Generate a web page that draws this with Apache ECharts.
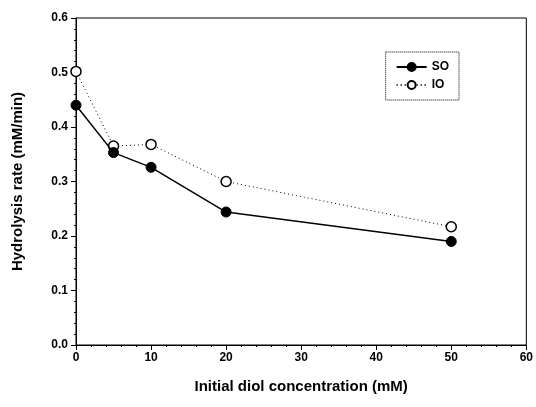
<!DOCTYPE html>
<html>
<head>
<meta charset="utf-8">
<script src="https://cdn.jsdelivr.net/npm/echarts@6/dist/echarts.min.js"></script>
<style>html,body{margin:0;padding:0;background:#fff}#c{width:536px;height:407px}</style>
</head>
<body>
<div id="c"></div>
<script>
var concentrations = [0, 5, 10, 20, 50];
var soRates = [0.440, 0.353, 0.326, 0.244, 0.190];
var ioRates = [0.502, 0.365, 0.368, 0.300, 0.217];
var xTitle = 'Initial diol concentration (mM)';
var yTitle = 'Hydrolysis rate (mM/min)';

function pairs(xs, ys) { return xs.map(function (x, i) { return [x, ys[i]]; }); }

var font = 'Liberation Sans, Arial, sans-serif';
var chart = echarts.init(document.getElementById('c'), null, {renderer: 'canvas'});
chart.setOption({
  animation: false,
  backgroundColor: '#fff',
  grid: {left: 76, right: 8, top: 18, bottom: 62, show: true, borderColor: '#000', borderWidth: 1},
  legend: {
    right: 77, top: 52, orient: 'vertical', itemWidth: 30, itemHeight: 10, itemGap: 6,
    padding: [9, 10, 9, 10],
    borderColor: '#000', borderWidth: 1, borderType: 'dotted', backgroundColor: '#fff',
    textStyle: {fontFamily: font, fontSize: 12, fontWeight: 'bold', color: '#000'},
    data: ['SO', 'IO']
  },
  xAxis: {
    type: 'value', min: 0, max: 60, interval: 10,
    name: xTitle, nameLocation: 'middle', nameGap: 34,
    nameTextStyle: {fontFamily: font, fontSize: 15, fontWeight: 'bold', color: '#000'},
    axisLine: {lineStyle: {color: '#000', width: 1}},
    axisTick: {inside: false, length: 5, lineStyle: {color: '#000'}},
    minorTick: {show: true, splitNumber: 5, length: 2, lineStyle: {color: '#000'}},
    axisLabel: {fontFamily: font, fontSize: 12, fontWeight: 'bold', color: '#000', margin: 7},
    splitLine: {show: false}
  },
  yAxis: {
    type: 'value', min: 0, max: 0.6, interval: 0.1,
    name: yTitle, nameLocation: 'middle', nameGap: 51,
    nameTextStyle: {fontFamily: font, fontSize: 15, fontWeight: 'bold', color: '#000'},
    axisLine: {lineStyle: {color: '#000', width: 1}},
    axisTick: {inside: false, length: 5, lineStyle: {color: '#000'}},
    minorTick: {show: true, splitNumber: 5, length: 2, lineStyle: {color: '#000'}},
    axisLabel: {fontFamily: font, fontSize: 12, fontWeight: 'bold', color: '#000', margin: 8,
      formatter: function (v) { return v.toFixed(1); }},
    splitLine: {show: false}
  },
  series: [
    {
      name: 'SO', type: 'line', data: pairs(concentrations, soRates),
      symbol: 'circle', symbolSize: 10,
      lineStyle: {color: '#000', width: 1.5, type: 'solid'},
      itemStyle: {color: '#000', borderColor: '#000', borderWidth: 1},
      z: 3
    },
    {
      name: 'IO', type: 'line', data: pairs(concentrations, ioRates),
      symbol: 'circle', symbolSize: 10,
      lineStyle: {color: '#000', width: 1, type: [1, 3]},
      itemStyle: {color: '#fff', borderColor: '#000', borderWidth: 1.5},
      z: 2
    }
  ]
});
</script>
</body>
</html>
